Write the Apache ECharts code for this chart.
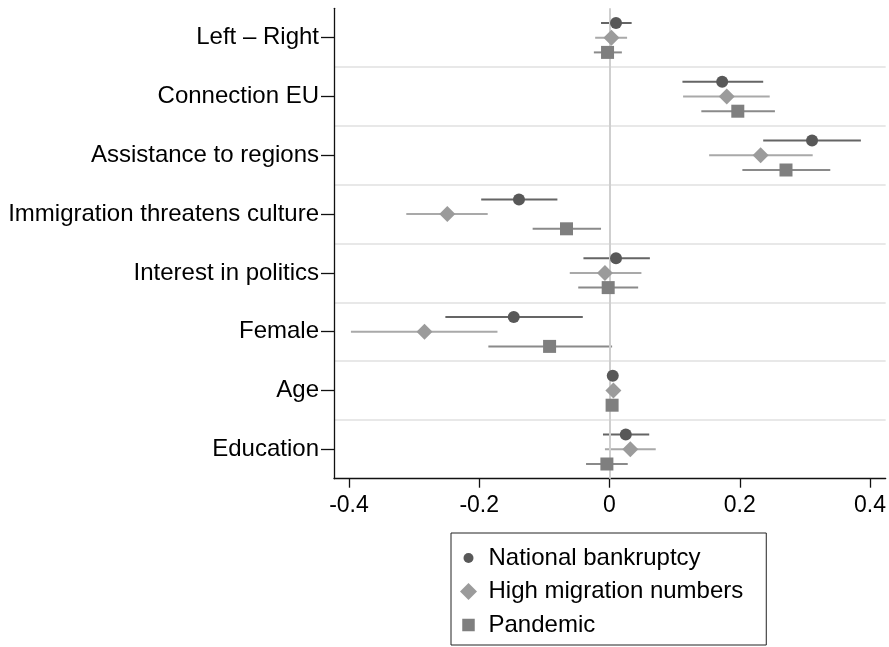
<!DOCTYPE html>
<html>
<head>
<meta charset="utf-8">
<script src="https://cdn.jsdelivr.net/npm/echarts@6/dist/echarts.min.js"></script>
<style>
html,body{margin:0;padding:0;background:#fff;}
#chart{width:889px;height:647px;}
</style>
</head>
<body>
<div id="chart"></div>
<script>
const categories = ['Left – Right','Connection EU','Assistance to regions','Immigration threatens culture','Interest in politics','Female','Age','Education'];
const seriesNames = ['National bankruptcy','High migration numbers','Pandemic'];
const bankruptcyEst = [0.010, 0.173, 0.311, -0.139, 0.010, -0.147, 0.005, 0.025];
const bankruptcyLo  = [-0.013, 0.112, 0.236, -0.197, -0.040, -0.252, 0.002, -0.010];
const bankruptcyHi  = [0.034, 0.236, 0.386, -0.080, 0.062, -0.041, 0.008, 0.061];
const migrationEst  = [0.003, 0.180, 0.232, -0.249, -0.007, -0.284, 0.006, 0.032];
const migrationLo   = [-0.022, 0.113, 0.153, -0.312, -0.061, -0.397, 0.003, -0.007];
const migrationHi   = [0.027, 0.246, 0.312, -0.187, 0.049, -0.172, 0.009, 0.071];
const pandemicEst   = [-0.003, 0.197, 0.271, -0.066, -0.002, -0.092, 0.004, -0.004];
const pandemicLo    = [-0.024, 0.141, 0.204, -0.118, -0.048, -0.186, 0.001, -0.036];
const pandemicHi    = [0.019, 0.254, 0.339, -0.013, 0.044, 0.004, 0.007, 0.028];
const xTicks = [-0.4, -0.2, 0, 0.2, 0.4];

const FONT = "'Liberation Sans', Arial, Helvetica, sans-serif";
const groups = [
  {name: seriesNames[0], est: bankruptcyEst, lo: bankruptcyLo, hi: bankruptcyHi, off: -0.25, symbol: 'circle', size: 12, color: '#585858', ci: '#656565'},
  {name: seriesNames[1], est: migrationEst, lo: migrationLo, hi: migrationHi, off: 0, symbol: 'diamond', size: 16, color: '#9b9b9b', ci: '#a9a9a9'},
  {name: seriesNames[2], est: pandemicEst, lo: pandemicLo, hi: pandemicHi, off: 0.25, symbol: 'rect', size: 13, color: '#7f7f7f', ci: '#8a8a8a'}
];

const series = [{
  type: 'scatter', name: 'zero', yAxisIndex: 1, data: [], z: 1, silent: true,
  markLine: {silent: true, symbol: 'none', label: {show: false},
    lineStyle: {color: '#cfcfcf', width: 2, type: 'solid'},
    emphasis: {disabled: true},
    data: [{xAxis: 0}]}
}];
groups.forEach(function (g, gi) {
  series.push({
    type: 'custom', name: 'ci' + gi, yAxisIndex: 1, z: 3, silent: true,
    data: categories.map(function (c, i) { return [g.lo[i], g.hi[i], i + 1 + g.off]; }),
    encode: {x: [0, 1], y: 2},
    renderItem: function (params, api) {
      const y = api.value(2);
      const p1 = api.coord([api.value(0), y]);
      const p2 = api.coord([api.value(1), y]);
      return {type: 'line', shape: {x1: p1[0], y1: p1[1], x2: p2[0], y2: p2[1]},
        style: {stroke: g.ci, lineWidth: 2}};
    }
  });
});
groups.forEach(function (g) {
  series.push({
    type: 'scatter', name: g.name, yAxisIndex: 1, z: 5,
    symbol: g.symbol, symbolSize: g.size,
    itemStyle: {color: g.color, opacity: 1},
    data: categories.map(function (c, i) { return [g.est[i], i + 1 + g.off]; })
  });
});

const chart = echarts.init(document.getElementById('chart'), null, {renderer: 'canvas'});
chart.setOption({
  animation: false,
  backgroundColor: '#ffffff',
  grid: {left: 334, right: 2, top: 8.3, bottom: 168.3},
  xAxis: {
    type: 'value', min: -0.423, max: 0.424,
    axisLine: {show: true, onZero: false, lineStyle: {color: '#111', width: 1.3}},
    axisTick: {show: true, length: 9, customValues: xTicks, lineStyle: {color: '#111', width: 1.3}},
    axisLabel: {customValues: xTicks, margin: 15, color: '#000', fontSize: 23, fontFamily: FONT,
      formatter: function (v) { return String(Math.round(v * 10) / 10); }},
    splitLine: {show: false}
  },
  yAxis: [{
    type: 'category', data: categories, inverse: true, boundaryGap: true,
    axisLine: {show: true, onZero: false, lineStyle: {color: '#111', width: 1.3}},
    axisTick: {show: true, alignWithLabel: true, length: 13, lineStyle: {color: '#111', width: 1.3}},
    axisLabel: {margin: 15, color: '#000', fontSize: 24, fontFamily: FONT, padding: [5, 0, 0, 0]},
    splitLine: {show: true, showMinLine: false, showMaxLine: false, lineStyle: {color: '#e8e8e8', width: 2}}
  }, {
    type: 'value', min: 0.5, max: 8.5, inverse: true, show: false
  }],
  legend: {
    orient: 'vertical', left: 451, top: 533,
    data: [
      {name: seriesNames[0], icon: 'path://M0,0M17,17M8.5,3.5A5,5,0,1,1,8.5,13.5A5,5,0,1,1,8.5,3.5Z'},
      {name: seriesNames[1], icon: 'diamond'},
      {name: seriesNames[2], icon: 'path://M0,0M17,17M2.25,2.25L14.75,2.25L14.75,14.75L2.25,14.75Z'}
    ],
    itemWidth: 17, itemHeight: 17, itemGap: 9.5,
    padding: [13, 23, 8, 9],
    borderColor: '#222', borderWidth: 1, borderRadius: 0,
    backgroundColor: '#fff',
    selectedMode: false,
    textStyle: {color: '#000', fontSize: 24, fontFamily: FONT, lineHeight: 24, padding: [0, 0, 0, 6.5]}
  },
  series: series
});
</script>
</body>
</html>
